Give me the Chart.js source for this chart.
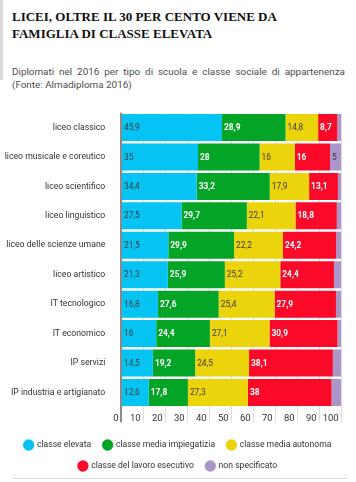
<!DOCTYPE html>
<html><head><meta charset="utf-8">
<script src="https://cdn.jsdelivr.net/npm/chart.js@4.4.1/dist/chart.umd.min.js"></script>
<style>
html,body{margin:0;padding:0;background:#fff;width:356px;height:482px;overflow:hidden;position:relative;}
#bar{position:absolute;left:0;top:0;width:2.5px;height:80px;background:#d9d9d9;}
#title{position:absolute;left:12px;top:8px;font:bold 13px "Liberation Serif",serif;line-height:17px;color:#111;white-space:nowrap;}
#sub1,#sub2{position:absolute;left:12px;width:333px;font:9.9px Roboto,sans-serif;line-height:13px;color:#4d4d4d;white-space:nowrap;}
#sub1{top:64.6px;text-align:justify;text-align-last:justify;}
#sub2{top:77.6px;}
#rule{position:absolute;left:12px;top:478px;width:336px;height:1px;background:#ddd;}
#wrap{position:absolute;left:0;top:0;width:356px;height:482px;}
</style></head>
<body>
<div id="bar"></div>
<div id="title">LICEI, OLTRE IL 30 PER CENTO VIENE DA<br>FAMIGLIA DI CLASSE ELEVATA</div>
<div id="sub1">Diplomati nel 2016 per tipo di scuola e classe sociale di appartenenza</div>
<div id="sub2">(Fonte: Almadiploma 2016)</div>
<div id="wrap"><canvas id="c" width="356" height="482"></canvas></div>
<div id="rule"></div>
<script>
const categories = ['liceo classico','liceo musicale e coreutico','liceo scientifico','liceo linguistico','liceo delle scienze umane','liceo artistico','IT tecnologico','IT economico','IP servizi','IP industria e artigianato'];
const seriesNames = ['classe elevata','classe media impiegatizia','classe media autonoma','classe del lavoro esecutivo','non specificato'];
const classeElevata = [45.9,35,34.4,27.5,21.5,21.3,16.8,16,14.5,12.6];
const mediaImpiegatizia = [28.9,28,33.2,29.7,29.9,25.9,27.6,24.4,19.2,17.8];
const mediaAutonoma = [14.8,16,17.9,22.1,22.2,25.2,25.4,27.1,24.5,27.3];
const lavoroEsecutivo = [8.7,16,13.1,18.8,24.2,24.4,27.9,30.9,38.1,38];
const nonSpecificato = [1.7,5,1.4,1.9,2.2,3.2,2.3,1.6,3.7,4.3];
const xTickLabels = [0,10,20,30,40,50,60,70,80,90,100];

const colors = ['#05c4f4','#04a526','#ebd40b','#fa0a28','#aa96c9'];
const labelColors = ['#3a3a3a','#ffffff','#3a3a3a','#ffffff','#3a3a3a'];
const seriesData = [classeElevata, mediaImpiegatizia, mediaAutonoma, lavoroEsecutivo, nonSpecificato];

Chart.defaults.font.family = 'Roboto';

const valueLabels = {
  id: 'valueLabels',
  afterDatasetsDraw(chart) {
    const ctx = chart.ctx;
    ctx.save();
    ctx.textAlign = 'left';
    ctx.textBaseline = 'middle';
    chart.data.datasets.forEach((ds, di) => {
      const meta = chart.getDatasetMeta(di);
      meta.data.forEach((el, i) => {
        const v = ds.data[i];
        if (v < 4.5) return;
        const p = el.getProps(['x', 'y', 'base'], true);
        const white = labelColors[di] === '#ffffff';
        ctx.font = (white ? 'bold ' : '') + '8.4px Roboto';
        ctx.fillStyle = labelColors[di];
        ctx.fillText(String(v).replace('.', ','), Math.min(p.x, p.base) + 2, p.y + 0.5);
      });
    });
    ctx.restore();
  }
};

new Chart(document.getElementById('c'), {
  type: 'bar',
  data: {
    labels: categories,
    datasets: seriesData.map((d, i) => ({
      label: seriesNames[i],
      data: d,
      backgroundColor: colors[i],
      borderWidth: 0,
      barPercentage: 0.917,
      categoryPercentage: 1
    }))
  },
  options: {
    indexAxis: 'y',
    responsive: false,
    animation: false,
    devicePixelRatio: 1,
    layout: { padding: { top: 112.8, bottom: 1.7, left: 0, right: 0 } },
    plugins: {
      tooltip: { enabled: false },
      legend: {
        position: 'bottom',
        labels: {
          usePointStyle: true,
          pointStyle: 'circle',
          boxWidth: 8,
          boxHeight: 8,
          padding: 12.4,
          color: '#333',
          font: { size: 8.6, family: 'Roboto' }
        }
      }
    },
    scales: {
      x: {
        stacked: true,
        min: 0,
        max: 100,
        afterBuildTicks(s) { s.ticks = xTickLabels.map(v => ({ value: v })); },
        afterFit(s) { s.height = 21.1; },
        border: { display: false },
        grid: {
          color: c => (c.tick && c.tick.value === 0) ? '#8a8a8a' : '#dedede',
          lineWidth: c => (c.tick && c.tick.value === 0) ? 2 : 1,
          tickLength: 15,
          drawTicks: true
        },
        ticks: {
          align: 'end',
          padding: -9.6,
          autoSkip: false,
          maxRotation: 0,
          color: '#333',
          font: { size: 9.5, family: 'Roboto' },
          callback: v => v + ' '
        }
      },
      y: {
        stacked: true,
        afterFit(s) { s.width = 121; },
        border: { display: false },
        grid: { display: false },
        ticks: {
          padding: 7.7,
          color: '#333',
          font: { size: 8.7, family: 'Roboto' }
        }
      },
      yr: {
        type: 'linear',
        position: 'right',
        display: true,
        afterFit(s) { s.width = 15; },
        border: { display: false },
        grid: { display: false },
        ticks: { display: false }
      }
    }
  },
  plugins: [valueLabels]
});
</script>
</body></html>
